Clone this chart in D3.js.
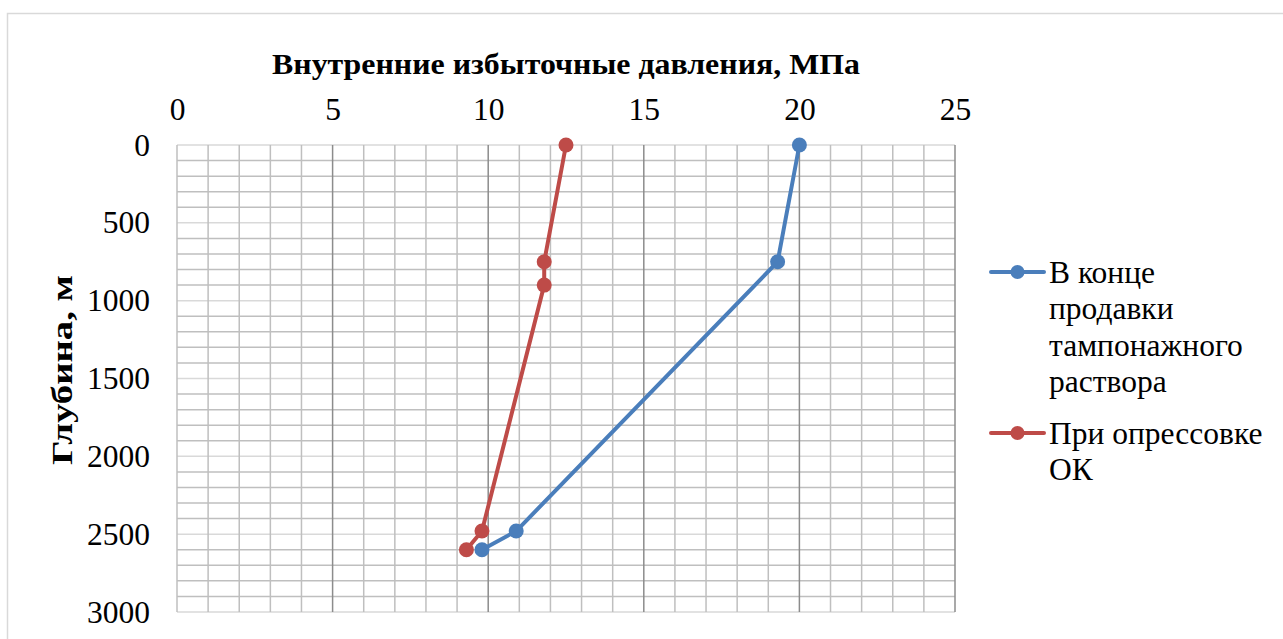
<!DOCTYPE html>
<html>
<head>
<meta charset="utf-8">
<script src="https://cdn.jsdelivr.net/npm/d3@7"></script>
<style>
  body { margin: 0; background: #fff; }
</style>
</head>
<body>
<svg id="chart" width="1283" height="639"></svg>
<script>
// data
const seriesNames = ["В конце продавки тампонажного раствора", "При опрессовке ОК"];
const depths = [0, 750, 900, 2480, 2600];
const blueValues = [20.0, 19.3, null, 10.9, 9.8];
const redValues = [12.5, 11.8, 11.8, 9.8, 9.3];
const xTicks = [0, 5, 10, 15, 20, 25];
const yTicks = [0, 500, 1000, 1500, 2000, 2500, 3000];

const colors = ["#4a7ebb", "#be4b48"];
const margin = {top: 145, right: 328, bottom: 27, left: 177};
const width = 1283, height = 639;

function font(size, bold) {
    return "font-family:'Liberation Serif';font-size:" + size + "px;fill:#000" + (bold ? ";font-weight:bold" : "");
}

let svg = d3.select("#chart");

// chart outer border
svg.append("rect")
    .attr("x", 7.5).attr("y", 13.5)
    .attr("width", 1290).attr("height", 700)
    .attr("fill", "none").attr("stroke", "#d9d9d9").attr("stroke-width", 1.5);

let x = d3.scaleLinear().domain([0, 25]).range([margin.left, width - margin.right]);
let y = d3.scaleLinear().domain([0, 3000]).range([margin.top, height - margin.bottom]);

let g = svg.append("g");

// minor horizontal grid (every 100 m)
g.selectAll(".hminor")
    .data(d3.range(0, 3001, 100).filter(d => d % 500 !== 0))
    .enter().append("line")
    .attr("x1", x(0)).attr("x2", x(25))
    .attr("y1", d => y(d)).attr("y2", d => y(d))
    .attr("stroke", "#bfbfbf").attr("stroke-width", 1.5);

// major horizontal grid
g.selectAll(".hmajor")
    .data(yTicks)
    .enter().append("line")
    .attr("x1", x(0)).attr("x2", x(25))
    .attr("y1", d => y(d)).attr("y2", d => y(d))
    .attr("stroke", "#d9d9d9").attr("stroke-width", 1.5);

// minor vertical grid (every 1 MPa)
g.selectAll(".vminor")
    .data(d3.range(0, 26, 1).filter(d => d % 5 !== 0 || d === 0))
    .enter().append("line")
    .attr("y1", y(0)).attr("y2", y(3000))
    .attr("x1", d => x(d)).attr("x2", d => x(d))
    .attr("stroke", "#bfbfbf").attr("stroke-width", 1.5);

// major vertical grid
g.selectAll(".vmajor")
    .data(xTicks.slice(1))
    .enter().append("line")
    .attr("y1", y(0)).attr("y2", y(3000))
    .attr("x1", d => x(d)).attr("x2", d => x(d))
    .attr("stroke", "#8c8c8c").attr("stroke-width", 1.5);

// tick labels
let xAxis = d3.axisTop(x).tickValues(xTicks).tickSize(0).tickPadding(0).tickFormat(d3.format("d"));
svg.append("g")
    .attr("transform", "translate(0,120)")
    .call(xAxis)
    .call(a => a.select(".domain").remove())
    .selectAll("text")
    .attr("style", font(31.5));

let yAxis = d3.axisLeft(y).tickValues(yTicks).tickSize(0).tickPadding(0).tickFormat(d3.format("d"));
svg.append("g")
    .attr("transform", "translate(150,0)")
    .call(yAxis)
    .call(a => a.select(".domain").remove())
    .selectAll("text")
    .attr("style", font(31.5));

// axis titles
svg.append("text")
    .attr("x", 566).attr("y", 74)
    .attr("text-anchor", "middle")
    .attr("style", font(30, true))
    .attr("textLength", 588).attr("lengthAdjust", "spacingAndGlyphs")
    .text("Внутренние избыточные давления, МПа");

svg.append("text")
    .attr("transform", "translate(72,370) rotate(-90)")
    .attr("text-anchor", "middle")
    .attr("style", font(30, true))
    .attr("textLength", 190).attr("lengthAdjust", "spacingAndGlyphs")
    .text("Глубина, м");

// series
let series = [blueValues, redValues].map((vals, i) => ({
    name: seriesNames[i],
    color: colors[i],
    points: depths.map((d, j) => ({depth: d, value: vals[j]})).filter(p => p.value !== null)
}));

let line = d3.line().x(p => x(p.value)).y(p => y(p.depth));

series.forEach(s => {
    svg.append("path")
        .attr("d", line(s.points))
        .attr("fill", "none")
        .attr("stroke", s.color)
        .attr("stroke-width", 4)
        .attr("stroke-linejoin", "round");
    svg.selectAll(null)
        .data(s.points)
        .enter().append("circle")
        .attr("cx", p => x(p.value))
        .attr("cy", p => y(p.depth))
        .attr("r", 7.5)
        .attr("fill", s.color);
});

// legend
let legendLines = [["В конце", "продавки", "тампонажного", "раствора"], ["При опрессовке", "ОК"]];
let legendTop = [272, 433];
series.forEach((s, i) => {
    let lg = svg.append("g").attr("transform", "translate(991," + legendTop[i] + ")");
    lg.append("line").attr("x1", 0).attr("x2", 53).attr("y1", 0).attr("y2", 0)
        .attr("stroke", s.color).attr("stroke-width", 4).attr("stroke-linecap", "round");
    lg.append("circle").attr("cx", 26.5).attr("cy", 0).attr("r", 7).attr("fill", s.color);
    lg.selectAll("text")
        .data(legendLines[i])
        .enter().append("text")
        .attr("x", 58)
        .attr("y", (d, k) => 11 + k * 36.3)
        .attr("style", font(31.5))
        .text(d => d);
});
</script>
</body>
</html>
